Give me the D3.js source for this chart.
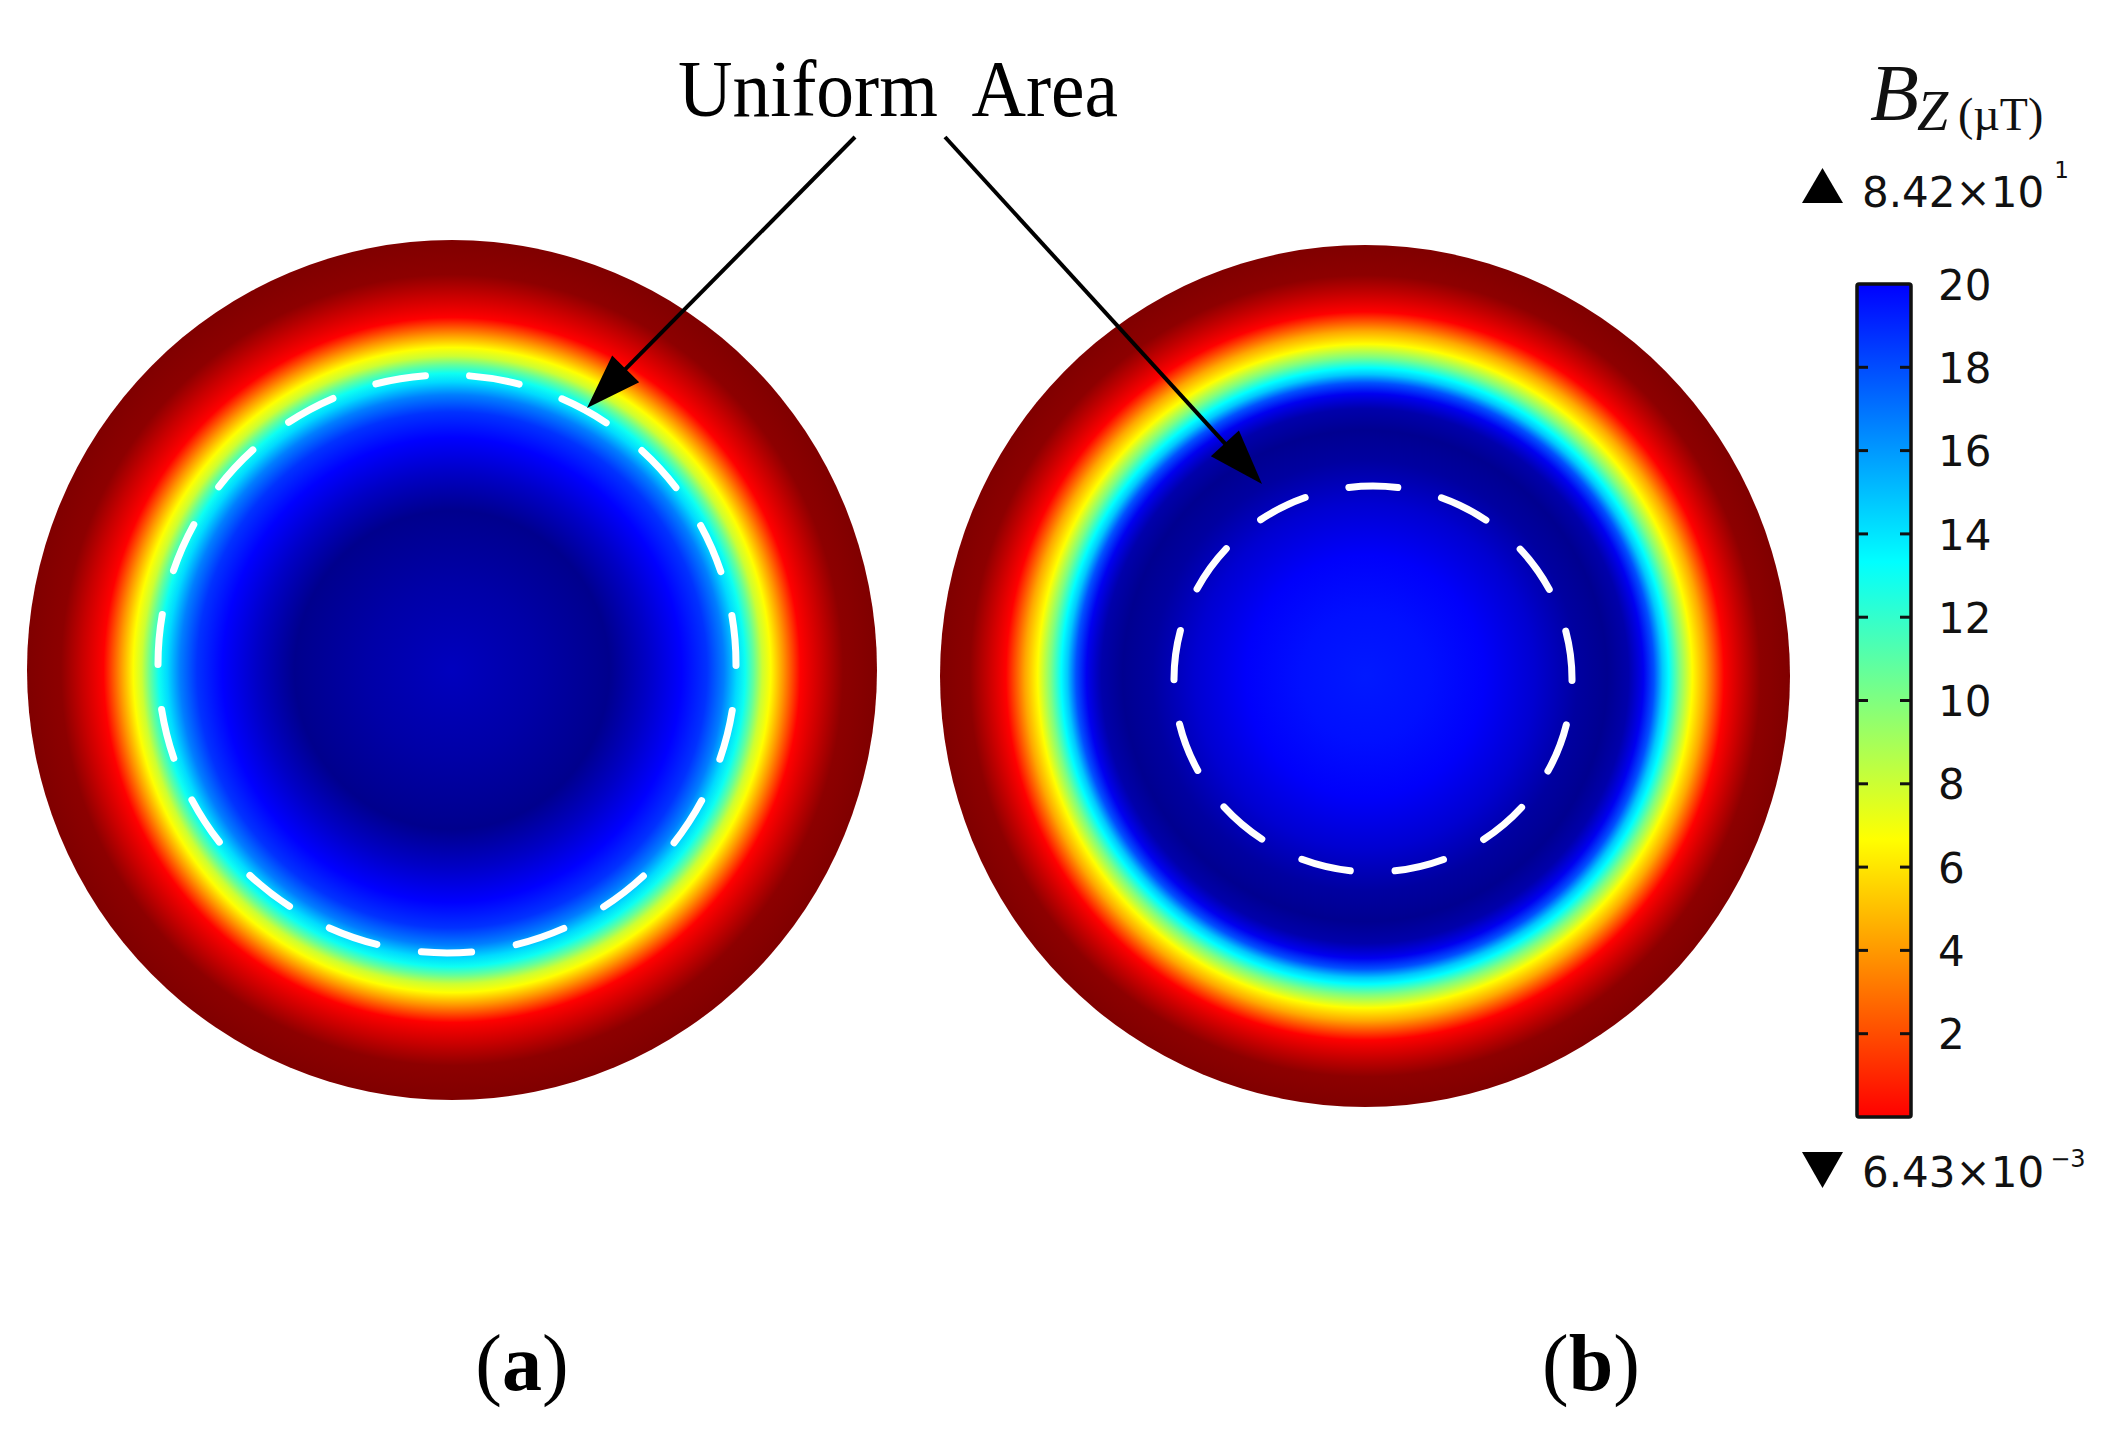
<!DOCTYPE html>
<html>
<head>
<meta charset="utf-8">
<script src="https://cdn.jsdelivr.net/npm/d3@7"></script>
<style>
  html, body { margin: 0; padding: 0; background: #fff; }
  svg { display: block; }
</style>
</head>
<body>
<svg id="chart" width="2125" height="1437"></svg>
<script>
// ---------------- data ----------------
// Jet-like colour map (value -> colour); the colour bar shows the 0..20 µT part of it
const colorValues = [23.33, 20, 13.33, 6.67, 0, -3.33];
const colorStops  = ["#000080", "#0000ff", "#00ffff", "#ffff00", "#ff0000", "#800000"];

// Radial profile of Bz (µT): relative radius -> value
const radiusA = [0, 0.2, 0.37, 0.46, 0.54, 0.60, 0.64, 0.67, 0.69, 0.71, 0.73, 0.75, 0.78, 0.82, 0.87, 0.92, 1];
const valueA  = [21.7, 22.3, 23.0, 21.5, 20.0, 18.7, 16.7, 14.3, 13.0, 10.7, 8.0, 6.67, 3.9, 0, -1.44, -3.0, -3.33];

// Radial profile of Bz (µT)
const radiusB = [0, 0.15, 0.28, 0.40, 0.50, 0.57, 0.62, 0.655, 0.68, 0.70, 0.715, 0.74, 0.77, 0.80, 0.845, 0.89, 0.93, 1];
const valueB  = [19.35, 19.6, 20.1, 21.2, 22.5, 22.9, 22.2, 20.4, 17.9, 14.8, 13.33, 10.0, 6.67, 4.4, 0, -1.6, -3.0, -3.33];

// Colour bar
const colorbarDomain = [0, 20];
const colorbarTicks  = [2, 4, 6, 8, 10, 12, 14, 16, 18];
const colorbarLabels = [2, 4, 6, 8, 10, 12, 14, 16, 18, 20];
const maxLabel = { mantissa: "8.42×10", exponent: "1" };
const minLabel = { mantissa: "6.43×10", exponent: "−3" };

const panelLabels = ["a", "b"];
const annotationText = "Uniform  Area";

// ---------------- drawing ----------------
const svg = d3.select("#chart");
const defs = svg.append("defs");

const color = d3.scaleLinear().domain(colorValues).range(colorStops).clamp(true);

const panels = [
  { id: panelLabels[0], cx: 452, cy: 670, rx: 425, ry: 430, radii: radiusA, values: valueA,
    dash: { cx: 447, cy: 664, rx: 289, ry: 289, n: 19, gapAtTop: true },
    label: { x: 522, y: 1390 } },
  { id: panelLabels[1], cx: 1365, cy: 676, rx: 425, ry: 431, radii: radiusB, values: valueB,
    dash: { cx: 1373, cy: 679, rx: 199, ry: 193, n: 13, gapAtTop: false },
    label: { x: 1591, y: 1390 } }
];

panels.forEach(p => {
  const grad = defs.append("radialGradient")
    .attr("id", "field-" + p.id)
    .attr("cx", "50%").attr("cy", "50%").attr("r", "50%");
  grad.selectAll("stop")
    .data(p.radii.map((r, i) => ({ r, v: p.values[i] })))
    .join("stop")
    .attr("offset", d => (d.r * 100) + "%")
    .attr("stop-color", d => color(d.v));

  svg.append("ellipse")
    .attr("cx", p.cx).attr("cy", p.cy)
    .attr("rx", p.rx).attr("ry", p.ry)
    .attr("fill", "url(#field-" + p.id + ")");

  // dashed "uniform area" boundary
  const d = p.dash;
  const path = svg.append("path")
    .attr("d", `M${d.cx},${d.cy - d.ry} A${d.rx},${d.ry} 0 1 1 ${d.cx},${d.cy + d.ry} A${d.rx},${d.ry} 0 1 1 ${d.cx},${d.cy - d.ry}`)
    .attr("fill", "none")
    .attr("stroke", "#ffffff")
    .attr("stroke-width", 7)
    .attr("stroke-linecap", "round");
  const L = path.node().getTotalLength();
  const period = L / d.n;
  const visDash = 0.6 * period, visGap = 0.4 * period;
  const sw = 7;
  const dashLen = visDash - sw, gapLen = visGap + sw;
  path.attr("stroke-dasharray", dashLen + " " + gapLen)
      .attr("stroke-dashoffset", d.gapAtTop ? (dashLen + gapLen / 2) : (dashLen / 2));

  // panel label
  const t = svg.append("text")
    .attr("x", p.label.x).attr("y", p.label.y)
    .attr("text-anchor", "middle")
    .attr("font-family", "'Liberation Serif', 'Times New Roman', serif")
    .attr("font-size", 80)
    .attr("fill", "#000");
  t.append("tspan").text("(");
  t.append("tspan").attr("font-weight", "bold").text(p.id);
  t.append("tspan").text(")");
});

// ---------------- annotation ----------------
svg.append("text")
  .attr("x", 678).attr("y", 116)
  .attr("font-family", "'Liberation Serif', 'Times New Roman', serif")
  .attr("font-size", 80)
  .attr("textLength", 440)
  .attr("lengthAdjust", "spacingAndGlyphs")
  .style("white-space", "pre")
  .attr("fill", "#000")
  .text(annotationText);

const arrows = [
  { x1: 855, y1: 137, x2: 587, y2: 408 },
  { x1: 945, y1: 137, x2: 1262, y2: 484 }
];
arrows.forEach(a => {
  const dx = a.x2 - a.x1, dy = a.y2 - a.y1;
  const len = Math.hypot(dx, dy);
  const ux = dx / len, uy = dy / len;
  const headL = 55, headW = 19;
  const bx = a.x2 - ux * headL, by = a.y2 - uy * headL;
  svg.append("line")
    .attr("x1", a.x1).attr("y1", a.y1)
    .attr("x2", bx + ux * 5).attr("y2", by + uy * 5)
    .attr("stroke", "#000").attr("stroke-width", 4);
  svg.append("path")
    .attr("d", `M${a.x2},${a.y2} L${bx - uy * headW},${by + ux * headW} L${bx + uy * headW},${by - ux * headW} Z`)
    .attr("fill", "#000");
});

// ---------------- colour bar ----------------
const cbX = 1857, cbW = 54, cbTop = 284, cbBottom = 1117;
const y = d3.scaleLinear().domain(colorbarDomain).range([cbBottom, cbTop]);

const cbGrad = defs.append("linearGradient")
  .attr("id", "cbgrad")
  .attr("x1", 0).attr("y1", 1).attr("x2", 0).attr("y2", 0);
const cbStops = colorValues.filter(v => v >= colorbarDomain[0] && v <= colorbarDomain[1]);
if (cbStops[0] !== colorbarDomain[1]) cbStops.unshift(colorbarDomain[1]);
if (cbStops[cbStops.length - 1] !== colorbarDomain[0]) cbStops.push(colorbarDomain[0]);
cbGrad.selectAll("stop")
  .data(cbStops.slice().sort((a, b) => a - b))
  .join("stop")
  .attr("offset", v => ((v - colorbarDomain[0]) / (colorbarDomain[1] - colorbarDomain[0]) * 100) + "%")
  .attr("stop-color", v => color(v));

svg.append("rect")
  .attr("x", cbX).attr("y", cbTop)
  .attr("width", cbW).attr("height", cbBottom - cbTop)
  .attr("rx", 2)
  .attr("fill", "url(#cbgrad)")
  .attr("stroke", "#111").attr("stroke-width", 3.5);

svg.append("g").selectAll("line.tl")
  .data(colorbarTicks).join("line")
  .attr("x1", cbX).attr("x2", cbX + 11)
  .attr("y1", d => y(d)).attr("y2", d => y(d))
  .attr("stroke", "#111").attr("stroke-width", 3);
svg.append("g").selectAll("line.tr")
  .data(colorbarTicks).join("line")
  .attr("x1", cbX + cbW - 11).attr("x2", cbX + cbW)
  .attr("y1", d => y(d)).attr("y2", d => y(d))
  .attr("stroke", "#111").attr("stroke-width", 3);

const axis = d3.axisRight(y).tickValues(colorbarLabels).tickSize(0).tickPadding(0).tickFormat(d3.format("d"));
const axG = svg.append("g").attr("transform", `translate(${cbX + cbW + 27},0)`).call(axis);
axG.select(".domain").remove();
axG.selectAll("text")
  .attr("font-family", "'DejaVu Sans', sans-serif")
  .attr("font-size", 42)
  .attr("fill", "#111")
  .attr("x", 0)
  .attr("dy", "0.36em");

// max / min markers
const fontSans = "'DejaVu Sans', sans-serif";
svg.append("path").attr("d", "M1802,203 L1843,203 L1822.5,168 Z").attr("fill", "#000");
const tMax = svg.append("text").attr("x", 1862).attr("y", 207)
  .attr("font-family", fontSans).attr("font-size", 42).attr("fill", "#111");
tMax.append("tspan").text(maxLabel.mantissa);
tMax.append("tspan").attr("dx", 10).attr("dy", -29).attr("font-size", 23).text(maxLabel.exponent);

svg.append("path").attr("d", "M1802,1152 L1843,1152 L1822.5,1188 Z").attr("fill", "#000");
const tMin = svg.append("text").attr("x", 1862).attr("y", 1187)
  .attr("font-family", fontSans).attr("font-size", 42).attr("fill", "#111");
tMin.append("tspan").text(minLabel.mantissa);
tMin.append("tspan").attr("dx", 6).attr("dy", -20).attr("font-size", 24).text(minLabel.exponent);

// colour bar title  B_Z (µT)
const title = svg.append("text").attr("x", 1870).attr("y", 120)
  .attr("font-family", "'Liberation Serif', 'Times New Roman', serif")
  .attr("fill", "#111");
title.append("tspan").attr("font-style", "italic").attr("font-size", 80).text("B");
title.append("tspan").attr("font-style", "italic").attr("font-size", 56).attr("dy", 10).attr("dx", -2).text("Z");
title.append("tspan").attr("font-size", 46).attr("dx", 10).text("(µT)");
</script>
</body>
</html>
